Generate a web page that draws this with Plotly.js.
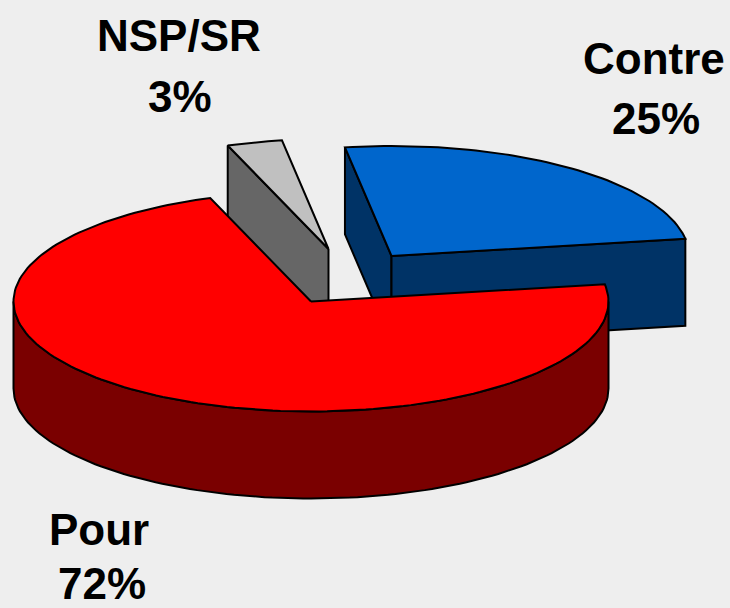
<!DOCTYPE html>
<html>
<head>
<meta charset="utf-8">
<script src="https://cdn.plot.ly/plotly-3.0.1.min.js"></script>
<style>html,body{margin:0;padding:0;background:#eeeeee}</style>
</head>
<body>
<div id="chart" style="width:730px;height:608px"></div>
<script>
// Data
const categories = ["Contre", "Pour", "NSP/SR"];
const shares = [25, 72, 3];

// Presentation
const topColors = ["#0066cc", "#ff0000", "#c0c0c0"];
const sideColors = ["#003366", "#7a0000", "#666666"];
const firstAngle = 99;          // degrees, slices run clockwise
const rx = 297.5, ry = 110, depth = 87;
const centresX = [391.5, 311, 328.5];
const centresY = [256, 301.5, 249];
const nameX = [654, 98.5, 178.5];
const nameY = [58, 529, 35];
const pctX = [656, 102, 180];
const pctY = [118, 583, 96];

const total = shares.reduce((a, b) => a + b, 0);
const rad = d => d * Math.PI / 180;
function rimPoints(cx, cy, a0, a1, dy) {
  const n = Math.max(2, Math.ceil(Math.abs(a1 - a0) / 1.5));
  const xs = [], ys = [];
  for (let i = 0; i <= n; i++) {
    const a = rad(a0 + (a1 - a0) * i / n);
    xs.push(cx + rx * Math.cos(a));
    ys.push(cy - ry * Math.sin(a) + dy);
  }
  return [xs, ys];
}
function poly(xs, ys, fill) {
  return {
    type: "scatter", mode: "lines", x: xs.concat(xs[0]), y: ys.concat(ys[0]),
    fill: "toself", fillcolor: fill, line: {color: "#000000", width: 2},
    hoverinfo: "skip", showlegend: false
  };
}
function cutFace(cx, cy, a, fill) {
  const px = cx + rx * Math.cos(rad(a)), py = cy - ry * Math.sin(rad(a));
  return poly([cx, px, px, cx], [cy, py, py + depth, cy + depth], fill);
}

// slice angle ranges
const ranges = [];
let ang = firstAngle;
shares.forEach(s => { const next = ang - s / total * 360; ranges.push([ang, next]); ang = next; });

const traces = [];
// Contre
{
  const [a0, a1] = ranges[0], cx = centresX[0], cy = centresY[0];
  traces.push(cutFace(cx, cy, a0, sideColors[0]));
  traces.push(cutFace(cx, cy, a1, sideColors[0]));
  const [xs, ys] = rimPoints(cx, cy, a0, a1, 0);
  traces.push(poly([cx].concat(xs), [cy].concat(ys), topColors[0]));
}
// NSP/SR
{
  const [a0, a1] = ranges[2], cx = centresX[2], cy = centresY[2];
  traces.push(cutFace(cx, cy, a0, sideColors[2]));
  const [xs, ys] = rimPoints(cx, cy, a0, a1, 0);
  traces.push(poly([cx].concat(xs), [cy].concat(ys), topColors[2]));
}
// Pour
{
  const [a0, a1] = ranges[1], cx = centresX[1], cy = centresY[1];
  const [tx, ty] = rimPoints(cx, cy, 0, -180, 0);
  const [bx, by] = rimPoints(cx, cy, -180, 0, depth);
  traces.push(poly(tx.concat(bx), ty.concat(by), sideColors[1]));
  const [xs, ys] = rimPoints(cx, cy, a0, a1, 0);
  traces.push(poly([cx].concat(xs), [cy].concat(ys), topColors[1]));
}

const textFont = {family: "Liberation Sans, Arial, sans-serif", size: 44, color: "#000000"};
const annotations = [];
categories.forEach((c, i) => {
  annotations.push({x: nameX[i], y: nameY[i], xref: "x", yref: "y", text: "<b>" + c + "</b>",
    showarrow: false, xanchor: "center", yanchor: "middle", font: textFont});
  annotations.push({x: pctX[i], y: pctY[i], xref: "x", yref: "y", text: "<b>" + shares[i] + "%</b>",
    showarrow: false, xanchor: "center", yanchor: "middle", font: textFont});
});

const hidden = {visible: false, showgrid: false, zeroline: false};
Plotly.newPlot("chart", traces, {
  width: 730, height: 608,
  margin: {l: 0, r: 0, t: 0, b: 0},
  paper_bgcolor: "#eeeeee", plot_bgcolor: "#eeeeee",
  xaxis: Object.assign({range: [0, 730]}, hidden),
  yaxis: Object.assign({range: [608, 0]}, hidden),
  showlegend: false, hovermode: false,
  annotations: annotations
}, {displayModeBar: false, staticPlot: true});
</script>
</body>
</html>
